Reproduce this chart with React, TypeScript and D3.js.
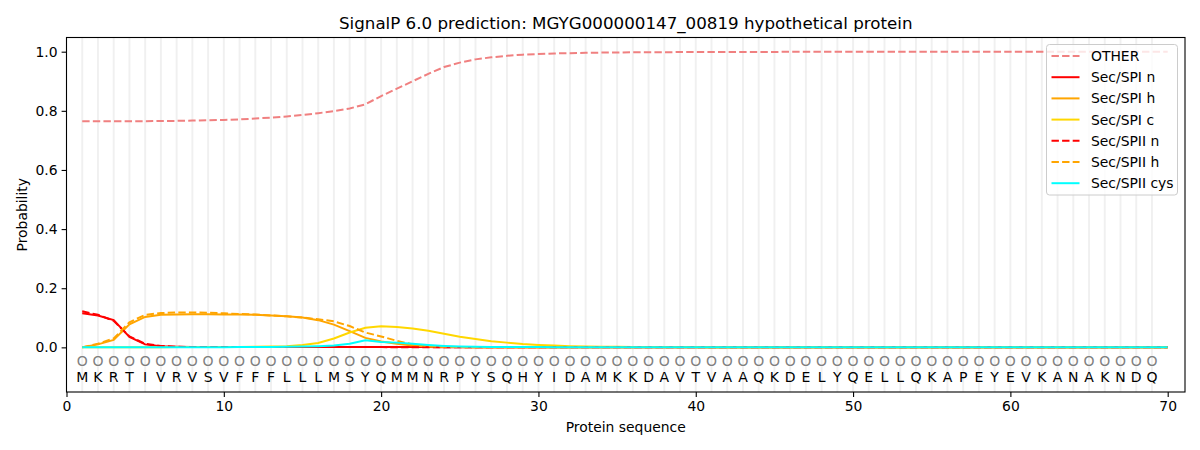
import React, { useEffect, useRef } from 'react';
import * as d3 from 'd3';

const sequence = 'MKRTIVRVSVFFFLLLMSYQMMNRPYSQHYIDAMKKDAVTVAAQKDELYQELLQKAPEYEVKANAKNDQ'.split('');

const other = [
  0.765, 0.765, 0.765, 0.765, 0.765, 0.766, 0.766, 0.767, 0.768, 0.769,
  0.771, 0.774, 0.777, 0.781, 0.786, 0.792, 0.799, 0.808, 0.822, 0.850,
  0.875, 0.900, 0.925, 0.948, 0.963, 0.974, 0.981, 0.986, 0.990, 0.992,
  0.994, 0.995, 0.996, 0.997, 0.997, 0.998, 0.998, 0.998, 0.999, 0.999,
  0.999, 0.999, 0.999, 0.999, 0.999, 1.0, 1.0, 1.0, 1.0, 1.0,
  1.0, 1.0, 1.0, 1.0, 1.0, 1.0, 1.0, 1.0, 1.0, 1.0,
  1.0, 1.0, 1.0, 1.0, 1.0, 1.0, 1.0, 1.0, 1.0, 1.0,
];
const spiN = [
  0.115, 0.108, 0.092, 0.035, 0.010, 0.004, 0.002, 0.001, 0.001, 0.001,
  0.001, 0.001, 0.001, 0.001, 0.001, 0.001, 0.001, 0.001, 0.001, 0.001,
  0.001, 0.001, 0.001, 0, 0, 0, 0, 0, 0, 0,
  0, 0, 0, 0, 0, 0, 0, 0, 0, 0,
  0, 0, 0, 0, 0, 0, 0, 0, 0, 0,
  0, 0, 0, 0, 0, 0, 0, 0, 0, 0,
  0, 0, 0, 0, 0, 0, 0, 0, 0, 0,
];
const spiH = [
  0.000, 0.010, 0.025, 0.078, 0.103, 0.110, 0.111, 0.112, 0.112, 0.111,
  0.111, 0.110, 0.108, 0.105, 0.101, 0.092, 0.077, 0.055, 0.032, 0.020,
  0.012, 0.006, 0.003, 0.002, 0.001, 0, 0, 0, 0, 0,
  0, 0, 0, 0, 0, 0, 0, 0, 0, 0,
  0, 0, 0, 0, 0, 0, 0, 0, 0, 0,
  0, 0, 0, 0, 0, 0, 0, 0, 0, 0,
  0, 0, 0, 0, 0, 0, 0, 0, 0, 0,
];
const spiC = [
  0, 0, 0, 0, 0, 0, 0.001, 0.001, 0.001, 0.001,
  0.001, 0.002, 0.003, 0.004, 0.008, 0.015, 0.030, 0.050, 0.066, 0.071,
  0.069, 0.064, 0.056, 0.046, 0.036, 0.028, 0.021, 0.016, 0.011, 0.008,
  0.006, 0.004, 0.003, 0.002, 0.002, 0.001, 0.001, 0.001, 0.001, 0.001,
  0, 0, 0, 0, 0, 0, 0, 0, 0, 0,
  0, 0, 0, 0, 0, 0, 0, 0, 0, 0,
  0, 0, 0, 0, 0, 0, 0, 0, 0, 0,
];
const spiiN = [
  0.122, 0.110, 0.090, 0.037, 0.012, 0.005, 0.002, 0.001, 0.001, 0.001,
  0.001, 0.001, 0.001, 0.001, 0.001, 0.001, 0.001, 0.001, 0.001, 0.001,
  0, 0, 0, 0, 0, 0, 0, 0, 0, 0,
  0, 0, 0, 0, 0, 0, 0, 0, 0, 0,
  0, 0, 0, 0, 0, 0, 0, 0, 0, 0,
  0, 0, 0, 0, 0, 0, 0, 0, 0, 0,
  0, 0, 0, 0, 0, 0, 0, 0, 0, 0,
];
const spiiH = [
  0.000, 0.012, 0.030, 0.085, 0.110, 0.116, 0.118, 0.118, 0.117, 0.115,
  0.113, 0.111, 0.108, 0.105, 0.101, 0.095, 0.088, 0.072, 0.050, 0.037,
  0.022, 0.010, 0.004, 0.002, 0.001, 0, 0, 0, 0, 0,
  0, 0, 0, 0, 0, 0, 0, 0, 0, 0,
  0, 0, 0, 0, 0, 0, 0, 0, 0, 0,
  0, 0, 0, 0, 0, 0, 0, 0, 0, 0,
  0, 0, 0, 0, 0, 0, 0, 0, 0, 0,
];
const spiiCys = [
  0, 0, 0, 0, 0, 0, 0, 0, 0, 0,
  0.001, 0.001, 0.001, 0.002, 0.003, 0.004, 0.006, 0.012, 0.024, 0.018,
  0.016, 0.012, 0.008, 0.005, 0.003, 0.002, 0.001, 0.001, 0.001, 0.001,
  0, 0, 0, 0, 0, 0, 0, 0, 0, 0,
  0, 0, 0, 0, 0, 0, 0, 0, 0, 0,
  0, 0, 0, 0, 0, 0, 0, 0, 0, 0,
  0, 0, 0, 0, 0, 0, 0, 0, 0, 0,
];

const series = [
  { name: 'OTHER', values: other, color: '#f08080', dashed: true },
  { name: 'Sec/SPI n', values: spiN, color: '#ff0000', dashed: false },
  { name: 'Sec/SPI h', values: spiH, color: '#ffa500', dashed: false },
  { name: 'Sec/SPI c', values: spiC, color: '#ffd700', dashed: false },
  { name: 'Sec/SPII n', values: spiiN, color: '#ff0000', dashed: true },
  { name: 'Sec/SPII h', values: spiiH, color: '#ffa500', dashed: true },
  { name: 'Sec/SPII cys', values: spiiCys, color: '#00ffff', dashed: false },
];

const xTicks = [0, 10, 20, 30, 40, 50, 60, 70];
const yTicks = [0, 0.2, 0.4, 0.6, 0.8, 1.0];

const W = 1200;
const H = 450;

const App: React.FC = () => {
  const svgRef = useRef<SVGSVGElement | null>(null);

  useEffect(() => {
    if (!svgRef.current) return;
    const svg = d3.select(svgRef.current);
    svg.selectAll('*').remove();

    const font = 'DejaVu Sans, sans-serif';
    const left = 66.5, right = 1185, top = 37.5, bottom = 392;

    const x = d3.scaleLinear().domain([0, 71.1]).range([left, right]);
    const y = d3.scaleLinear().domain([-0.151, 1.048]).range([bottom, top]);

    svg.append('rect').attr('width', W).attr('height', H).attr('fill', '#fff');

    // per-residue vertical grid lines
    svg.append('g')
      .selectAll('line')
      .data(sequence)
      .enter()
      .append('line')
      .attr('x1', (_, i) => x(i + 1))
      .attr('x2', (_, i) => x(i + 1))
      .attr('y1', top)
      .attr('y2', bottom)
      .attr('stroke', '#000')
      .attr('stroke-opacity', 0.06)
      .attr('stroke-width', 2);

    const line = d3.line<number>()
      .x((_, i) => x(i + 1))
      .y(d => y(d));

    const lines = svg.append('g');
    series.forEach(s => {
      lines.append('path')
        .datum(s.values)
        .attr('d', line)
        .attr('fill', 'none')
        .attr('stroke', s.color)
        .attr('stroke-width', 2)
        .attr('stroke-dasharray', s.dashed ? '7.4,3.2' : null);
    });

    // residue markers and letters
    const res = svg.append('g').style('font-family', font).style('font-size', '14px');
    res.selectAll('text.circ')
      .data(sequence)
      .enter()
      .append('text')
      .attr('class', 'circ')
      .attr('x', (_, i) => x(i + 1))
      .attr('y', y(-0.045))
      .attr('dy', '0.36em')
      .attr('text-anchor', 'middle')
      .attr('fill', '#808080')
      .text('O');
    res.selectAll('text.aa')
      .data(sequence)
      .enter()
      .append('text')
      .attr('class', 'aa')
      .attr('x', (_, i) => x(i + 1))
      .attr('y', y(-0.1))
      .attr('dy', '0.36em')
      .attr('text-anchor', 'middle')
      .attr('fill', '#000')
      .text(d => d);

    // axes
    const xAxis = svg.append('g')
      .attr('transform', `translate(0,${bottom})`)
      .call(d3.axisBottom(x).tickValues(xTicks).tickSize(4.9).tickPadding(4).tickFormat(d3.format('d')));
    const yAxis = svg.append('g')
      .attr('transform', `translate(${left},0)`)
      .call(d3.axisLeft(y).tickValues(yTicks).tickSize(4.9).tickPadding(4).tickFormat(d3.format('.1f')));
    [xAxis, yAxis].forEach(a => {
      a.select('.domain').remove();
      a.selectAll('line').attr('stroke', '#000').attr('stroke-width', 1.1);
      a.selectAll('text').style('font-family', font).style('font-size', '13.9px').attr('fill', '#000');
    });

    svg.append('rect')
      .attr('x', left)
      .attr('y', top)
      .attr('width', right - left)
      .attr('height', bottom - top)
      .attr('fill', 'none')
      .attr('stroke', '#000')
      .attr('stroke-width', 1.1);

    svg.append('text')
      .attr('x', (left + right) / 2)
      .attr('y', 29)
      .attr('text-anchor', 'middle')
      .style('font-family', font)
      .style('font-size', '16.7px')
      .text('SignalP 6.0 prediction: MGYG000000147_00819 hypothetical protein');

    svg.append('text')
      .attr('x', (left + right) / 2)
      .attr('y', 432)
      .attr('text-anchor', 'middle')
      .style('font-family', font)
      .style('font-size', '13.9px')
      .text('Protein sequence');

    svg.append('text')
      .attr('transform', `translate(27,${(top + bottom) / 2}) rotate(-90)`)
      .attr('text-anchor', 'middle')
      .style('font-family', font)
      .style('font-size', '13.9px')
      .text('Probability');

    // legend
    const lg = svg.append('g').attr('transform', 'translate(1046.5,44.5)');
    lg.append('rect')
      .attr('width', 131)
      .attr('height', 150.5)
      .attr('rx', 3)
      .attr('fill', '#fff')
      .attr('fill-opacity', 0.8)
      .attr('stroke', '#cccccc')
      .attr('stroke-width', 1);
    series.forEach((s, i) => {
      const cy = 11.5 + i * 21.2;
      lg.append('line')
        .attr('x1', 5)
        .attr('x2', 33)
        .attr('y1', cy)
        .attr('y2', cy)
        .attr('stroke', s.color)
        .attr('stroke-width', 2)
        .attr('stroke-dasharray', s.dashed ? '7.4,3.2' : null);
      lg.append('text')
        .attr('x', 44.5)
        .attr('y', cy)
        .attr('dy', '0.36em')
        .style('font-family', font)
        .style('font-size', '13.9px')
        .text(s.name);
    });
  }, []);

  return (
    <div style={{ position: 'absolute', left: 0, top: 0 }}>
      <svg ref={svgRef} width={W} height={H} style={{ display: 'block' }} />
    </div>
  );
};

export default App;
